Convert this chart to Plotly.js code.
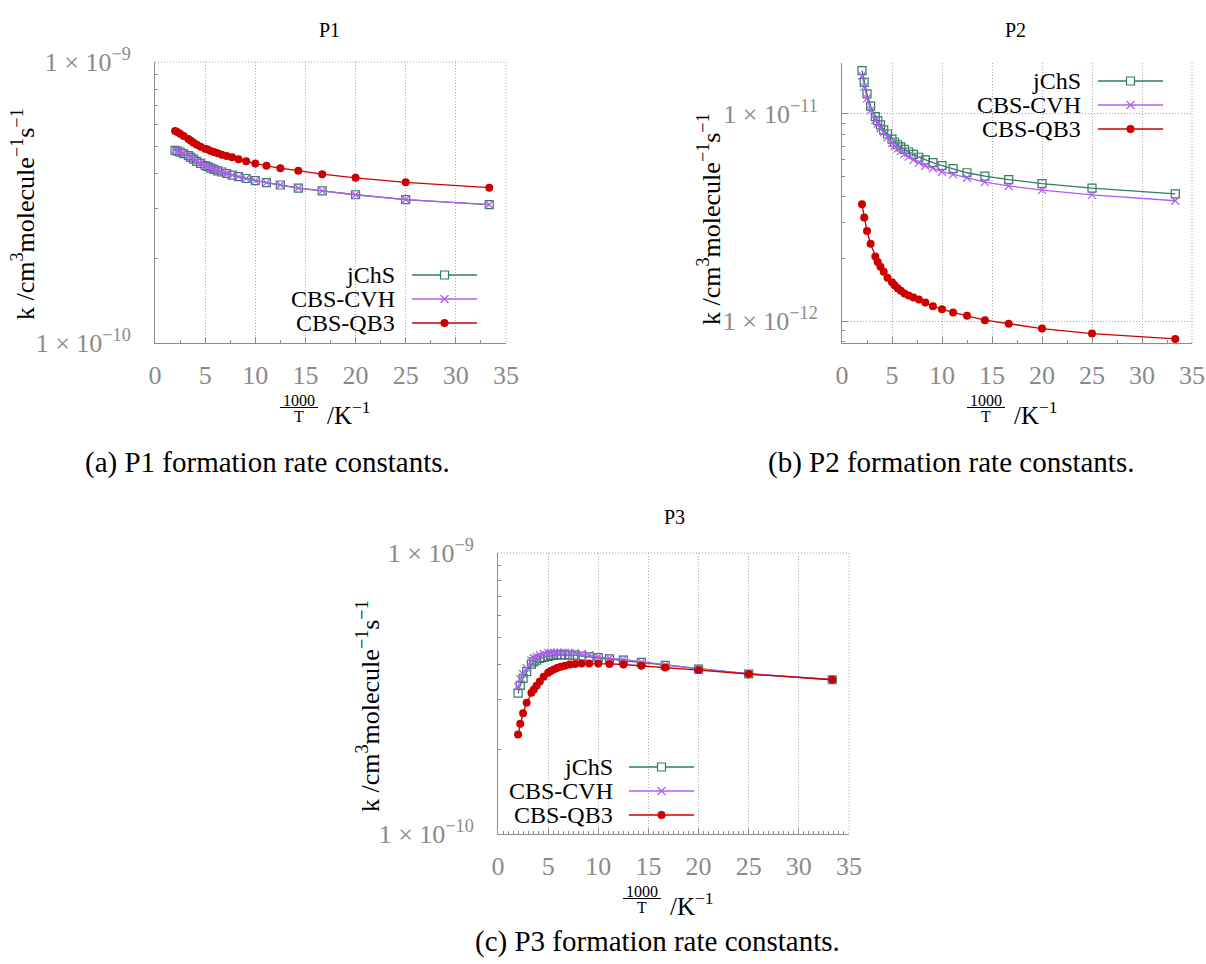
<!DOCTYPE html>
<html>
<head>
<meta charset="utf-8">
<script src="https://cdn.plot.ly/plotly-3.0.1.min.js"></script>
<style>html,body{margin:0;padding:0;background:#fff;}#chart{width:1206px;height:964px;}</style>
</head>
<body>
<div id="chart"></div>
<script>
// ---------------- data ----------------
var invT = [2, 2.22, 2.5, 2.86, 3.33, 3.57, 3.85, 4.17, 4.55, 5, 5.26, 5.56, 5.88, 6.25, 6.67, 7.14, 7.69, 8.33, 9.09, 10, 11.11, 12.5, 14.29, 16.67, 20, 25, 33.33];

var seriesNames = ["jChS", "CBS-CVH", "CBS-QB3"];
var panelTitles = ["P1", "P2", "P3"];
var captions = ["(a) P1 formation rate constants.", "(b) P2 formation rate constants.", "(c) P3 formation rate constants."];

var p1_jChS = [4.85e-10,4.82e-10,4.78e-10,4.72e-10,4.64e-10,4.58e-10,4.51e-10,4.43e-10,4.36e-10,4.28e-10,4.24e-10,4.19e-10,4.15e-10,4.10e-10,4.06e-10,4.01e-10,3.96e-10,3.91e-10,3.85e-10,3.78e-10,3.72e-10,3.65e-10,3.56e-10,3.48e-10,3.37e-10,3.24e-10,3.11e-10];
var p1_CVH  = [4.87e-10,4.83e-10,4.79e-10,4.73e-10,4.65e-10,4.59e-10,4.52e-10,4.44e-10,4.37e-10,4.29e-10,4.25e-10,4.20e-10,4.16e-10,4.11e-10,4.06e-10,4.01e-10,3.96e-10,3.91e-10,3.85e-10,3.78e-10,3.72e-10,3.65e-10,3.56e-10,3.48e-10,3.37e-10,3.24e-10,3.11e-10];
var p1_QB3  = [5.68e-10,5.63e-10,5.56e-10,5.45e-10,5.32e-10,5.25e-10,5.16e-10,5.08e-10,4.99e-10,4.91e-10,4.88e-10,4.82e-10,4.78e-10,4.73e-10,4.68e-10,4.63e-10,4.58e-10,4.51e-10,4.43e-10,4.35e-10,4.27e-10,4.19e-10,4.10e-10,3.99e-10,3.87e-10,3.73e-10,3.57e-10];

var p2_jChS = [1.62e-11,1.42e-11,1.25e-11,1.09e-11,9.70e-12,9.28e-12,8.85e-12,8.37e-12,8.00e-12,7.55e-12,7.30e-12,7.10e-12,6.93e-12,6.75e-12,6.55e-12,6.38e-12,6.18e-12,6.00e-12,5.82e-12,5.63e-12,5.44e-12,5.20e-12,5.01e-12,4.82e-12,4.61e-12,4.38e-12,4.11e-12];
var p2_CVH  = [1.53e-11,1.35e-11,1.19e-11,1.04e-11,9.35e-12,8.95e-12,8.53e-12,8.15e-12,7.71e-12,7.24e-12,7.00e-12,6.80e-12,6.61e-12,6.41e-12,6.22e-12,6.00e-12,5.82e-12,5.62e-12,5.47e-12,5.26e-12,5.11e-12,4.92e-12,4.69e-12,4.49e-12,4.29e-12,4.07e-12,3.81e-12];
var p2_QB3  = [3.66e-12,3.16e-12,2.72e-12,2.36e-12,2.05e-12,1.93e-12,1.83e-12,1.73e-12,1.62e-12,1.54e-12,1.49e-12,1.44e-12,1.40e-12,1.36e-12,1.33e-12,1.30e-12,1.27e-12,1.23e-12,1.18e-12,1.14e-12,1.10e-12,1.06e-12,1.01e-12,0.97e-12,0.92e-12,0.87e-12,0.82e-12];

var p3_jChS = [3.17e-10,3.38e-10,3.58e-10,3.78e-10,4.02e-10,4.10e-10,4.16e-10,4.22e-10,4.25e-10,4.29e-10,4.31e-10,4.33e-10,4.34e-10,4.34e-10,4.34e-10,4.33e-10,4.33e-10,4.30e-10,4.27e-10,4.24e-10,4.20e-10,4.16e-10,4.08e-10,3.98e-10,3.86e-10,3.71e-10,3.54e-10];
var p3_CVH  = [3.34e-10,3.55e-10,3.71e-10,3.89e-10,4.14e-10,4.22e-10,4.27e-10,4.34e-10,4.37e-10,4.40e-10,4.42e-10,4.42e-10,4.42e-10,4.42e-10,4.42e-10,4.41e-10,4.40e-10,4.37e-10,4.33e-10,4.27e-10,4.22e-10,4.18e-10,4.10e-10,3.99e-10,3.87e-10,3.72e-10,3.55e-10];
var p3_QB3  = [2.26e-10,2.47e-10,2.69e-10,2.93e-10,3.18e-10,3.27e-10,3.37e-10,3.49e-10,3.63e-10,3.75e-10,3.80e-10,3.85e-10,3.90e-10,3.94e-10,3.97e-10,4.01e-10,4.03e-10,4.04e-10,4.04e-10,4.04e-10,4.03e-10,4.01e-10,3.97e-10,3.91e-10,3.83e-10,3.71e-10,3.54e-10];

var xTickVals = [0, 5, 10, 15, 20, 25, 30, 35];
var yTickValsA = [1e-10, 1e-9];
var yTickTextA = ["1 × 10<sup>−10</sup>", "1 × 10<sup>−9</sup>"];
var yTickValsB = [1e-12, 1e-11];
var yTickTextB = ["1 × 10<sup>−12</sup>", "1 × 10<sup>−11</sup>"];
var yLabelText = "k /cm<sup>3</sup>molecule<sup>−1</sup>s<sup>−1</sup>";
var xUnitText = "/K<sup>−1</sup>";

// ---------------- styling ----------------
var W = 1206, H = 964;
var FONT = "Liberation Serif";
var colors = ["#2f7f5f", "#b25cf2", "#cc0000"];
var symbols = ["square-open", "x-thin-open", "circle"];
var msizes = [8, 8, 8];
var GRID = "#a8a8a8";
var AXC = "#8c8c8c";

function P(px) { return px / W; }
function Q(py) { return 1 - py / H; }

var panels = [
  {x0:155, x1:506, y0:62, y1:343, yr:[-10,-9], tv:yTickValsA, tt:yTickTextA, topGrid:true,
   data:[p1_jChS, p1_CVH, p1_QB3], dx:0, dy:0,
   title:[330,30], cap:[267,462], ylab:[23,214],
   leg:{tr:397, ly:[275,299,323], l0:412, l1:477}, box:[283,262,505,342]},
  {x0:842, x1:1192, y0:63, y1:343, yr:[-12.106,-10.754], tv:yTickValsB, tt:yTickTextB, topGrid:false,
   data:[p2_jChS, p2_CVH, p2_QB3], dx:687, dy:0,
   title:[1015,30], cap:[951,462], ylab:[710,219],
   leg:{tr:1083, ly:[81,105,129], l0:1098, l1:1163}, box:[966,64,1178,139]},
  {x0:498, x1:849, y0:553, y1:834, yr:[-10,-9], tv:yTickValsA, tt:yTickTextA, topGrid:true,
   data:[p3_jChS, p3_CVH, p3_QB3], dx:343, dy:491,
   title:[675,517], cap:[657,941], ylab:[368,706],
   leg:{tr:615, ly:[767,791,815], l0:629, l1:694}, box:[503,753,698,833]}
];

var traces = [];
var layout = {
  width: W, height: H, autosize: false,
  margin: {l:0, r:0, t:0, b:0},
  paper_bgcolor: "#fff", plot_bgcolor: "rgba(0,0,0,0)",
  showlegend: false,
  font: {family: FONT, size: 24, color: "#000"},
  annotations: [], shapes: []
};

function logMinor(r) {
  var out = [];
  for (var e = Math.floor(r[0]) - 1; e <= Math.ceil(r[1]); e++) {
    for (var m = 2; m <= 9; m++) out.push(m * Math.pow(10, e));
  }
  return out;
}

function ann(x, y, text, size, opts) {
  var a = {xref: "paper", yref: "paper", x: P(x), y: Q(y), xanchor: "center", yanchor: "middle",
           showarrow: false, text: text, font: {family: FONT, size: size, color: "#000"}};
  for (var k in (opts || {})) a[k] = opts[k];
  layout.annotations.push(a);
}
function pline(x0, y0, x1, y1, color, width, dash) {
  layout.shapes.push({type: "line", xref: "paper", yref: "paper", x0: P(x0), x1: P(x1), y0: Q(y0), y1: Q(y1),
    line: {color: color, width: width, dash: dash || "solid"}});
}

panels.forEach(function(p, i) {
  var sfx = i === 0 ? "" : String(i + 1);
  var xr = "x" + sfx, yr = "y" + sfx;

  layout["xaxis" + sfx] = {
    domain: [P(p.x0), P(p.x1)], anchor: yr, range: [0, 35],
    tickmode: "array", tickvals: xTickVals,
    ticks: "inside", ticklen: 6, tickcolor: AXC, tickwidth: 1,
    showline: true, linecolor: AXC, linewidth: 1, mirror: false,
    showgrid: true, gridcolor: GRID, griddash: "1px,2px", gridwidth: 1,
    zeroline: false, ticklabelstandoff: 9,
    tickfont: {family: FONT, size: 26, color: "#8a8a8a"},
    minor: {dtick: i === 2 ? 0.5 : 2.5, ticks: "inside", ticklen: 3, tickcolor: AXC, showgrid: false}
  };
  layout["yaxis" + sfx] = {
    domain: [Q(p.y1), Q(p.y0)], anchor: xr, type: "log", range: p.yr,
    tickmode: "array", tickvals: p.tv, ticktext: p.tt,
    ticks: "inside", ticklen: 6, tickcolor: AXC, tickwidth: 1,
    showline: true, linecolor: AXC, linewidth: 1, mirror: false,
    showgrid: true, gridcolor: GRID, griddash: "1px,2px", gridwidth: 1,
    zeroline: false, ticklabelstandoff: 18,
    tickfont: {family: FONT, size: 26, color: "#8a8a8a"},
    minor: {tickmode: "array", tickvals: logMinor(p.yr), ticks: "inside", ticklen: 3, tickcolor: AXC, showgrid: false}
  };

  p.data.forEach(function(ys, s) {
    traces.push({
      type: "scatter", mode: "lines+markers", x: invT, y: ys,
      xaxis: xr, yaxis: yr, name: seriesNames[s], cliponaxis: false,
      line: {color: colors[s], width: 1.3},
      marker: {symbol: symbols[s], size: msizes[s], color: colors[s],
               line: {color: colors[s], width: s === 2 ? 0 : 1.2}}
    });
  });

  // dotted frame edges (grid lines at the range ends)
  pline(p.x1, p.y0, p.x1, p.y1, GRID, 1, "1px,2px");
  if (p.topGrid) pline(p.x0, p.y0, p.x1, p.y0, GRID, 1, "1px,2px");

  // legend background (hides grid)
  layout.shapes.push({type: "rect", layer: "between", xref: "paper", yref: "paper",
    x0: P(p.box[0]), x1: P(p.box[2] + 2), y0: Q(p.box[3]), y1: Q(p.box[1]),
    fillcolor: "#fff", line: {width: 0}});

  // legend entries (text left, sample right, as in the original)
  var lg = p.leg;
  var xm = (lg.l0 + lg.l1) / 2;
  seriesNames.forEach(function(nm, s) {
    var yy = lg.ly[s];
    ann(lg.tr, yy, nm, 24, {xanchor: "right"});
    pline(lg.l0, yy, lg.l1, yy, colors[s], 1.3);
    var r = 4;
    if (s === 0) {
      layout.shapes.push({type: "rect", xref: "paper", yref: "paper",
        x0: P(xm - r), x1: P(xm + r), y0: Q(yy + r), y1: Q(yy - r),
        fillcolor: "#fff", line: {color: colors[s], width: 1.2}});
    } else if (s === 1) {
      pline(xm - r, yy + r, xm + r, yy - r, colors[s], 1.3);
      pline(xm - r, yy - r, xm + r, yy + r, colors[s], 1.3);
    } else {
      layout.shapes.push({type: "circle", xref: "paper", yref: "paper",
        x0: P(xm - r), x1: P(xm + r), y0: Q(yy + r), y1: Q(yy - r),
        fillcolor: colors[s], line: {color: colors[s], width: 0}});
    }
  });

  ann(p.title[0], p.title[1], panelTitles[i], 20);
  ann(p.cap[0], p.cap[1], captions[i], 29);
  ann(p.ylab[0], p.ylab[1], yLabelText, 26, {textangle: -90});

  // x-axis label: fraction 1000/T and unit
  var fx = 299 + p.dx, fy = p.dy;
  ann(fx, 400 + fy, "1000", 16);
  pline(fx - 19, 407.5 + fy, fx + 19, 407.5 + fy, "#000", 1);
  ann(fx, 416.5 + fy, "T", 16);
  ann(325 + p.dx, 413 + fy, xUnitText, 25, {xanchor: "left"});
});

Plotly.newPlot("chart", traces, layout, {displayModeBar: false});
</script>
</body>
</html>
